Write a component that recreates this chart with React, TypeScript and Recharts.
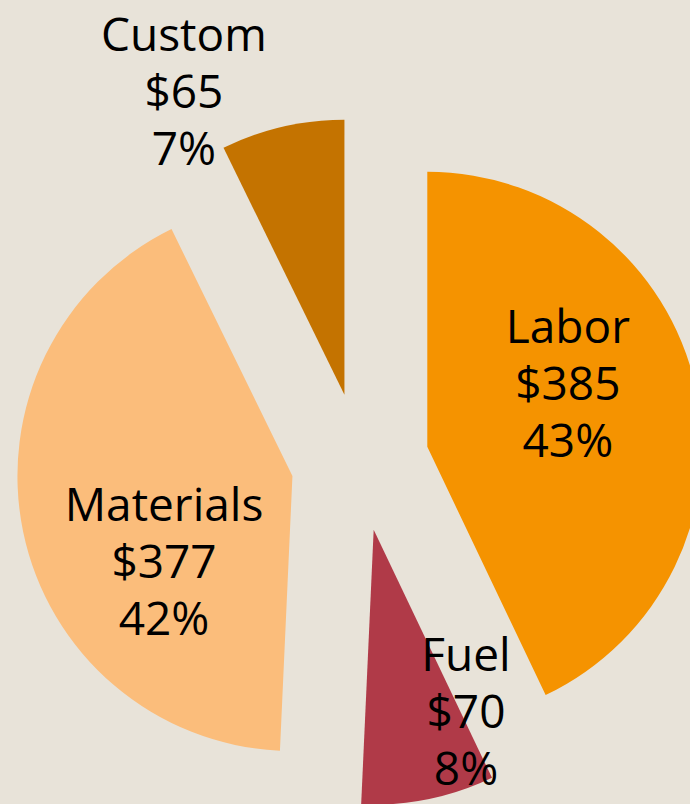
import { PieChart, Pie, Cell, Sector } from 'recharts';

const categories = ['Labor', 'Fuel', 'Materials', 'Custom'];
const costs = [385, 70, 377, 65];

const colors = ['#F59300', '#B03A48', '#FBBD7B', '#C47300'];
// label placement: distance from pie centre and angle shift from slice middle
const labelRadius = [222, 272, 220, 410];
const labelShift = [7.8, 11.5, 15.3, 12.4];

const RADIAN = Math.PI / 180;
const EXPLODE = 69;
const LINE = 57;

const chartData = categories.map((name, i) => ({ name, value: costs[i] }));

function ExplodedSector(props: any) {
    const { cx, cy, midAngle, fill } = props;
    const dx = EXPLODE * Math.cos(-midAngle * RADIAN);
    const dy = EXPLODE * Math.sin(-midAngle * RADIAN);
    return <Sector {...props} cx={cx + dx} cy={cy + dy} fill={fill} stroke="none" />;
}

function renderLabel(props: any) {
    const { cx, cy, midAngle, percent, index } = props;
    const a = (midAngle + labelShift[index]) * RADIAN;
    const x = cx + labelRadius[index] * Math.cos(-a);
    const y = cy + labelRadius[index] * Math.sin(-a) + 16;
    return (
        <text x={x} y={y} textAnchor="middle" fill="#000" fontSize={46} fontFamily="'Open Sans', sans-serif">
            <tspan x={x} y={y - LINE}>{categories[index]}</tspan>
            <tspan x={x} y={y}>{`$${costs[index]}`}</tspan>
            <tspan x={x} y={y + LINE}>{`${Math.round(percent * 100)}%`}</tspan>
        </text>
    );
}

export default function App() {
    return (
        <div style={{ position: 'absolute', left: 0, top: 0, width: 690, height: 804, background: '#E8E3D9', overflow: 'hidden' }}>
            <PieChart width={690} height={804}>
                <Pie
                    data={chartData}
                    dataKey="value"
                    nameKey="name"
                    cx={355}
                    cy={457}
                    outerRadius={275}
                    startAngle={90}
                    endAngle={-270}
                    stroke="none"
                    shape={ExplodedSector}
                    label={renderLabel}
                    labelLine={false}
                    isAnimationActive={false}
                >
                    {chartData.map((d, i) => (
                        <Cell key={d.name} fill={colors[i]} />
                    ))}
                </Pie>
            </PieChart>
        </div>
    );
}
